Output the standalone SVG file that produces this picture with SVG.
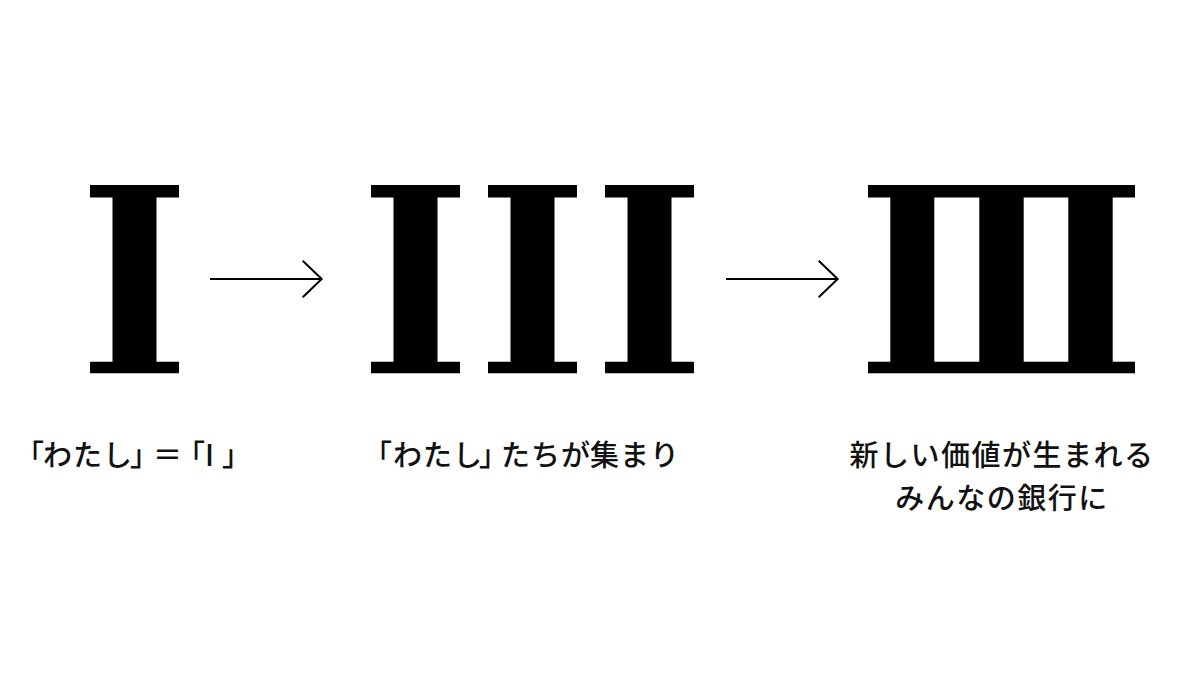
<svg xmlns="http://www.w3.org/2000/svg" width="1200" height="675" viewBox="0 0 1200 675">
  <style>
    .glyph { fill: #000; }
    .conn { stroke: #000; stroke-width: 2; fill: none; }
    .label { font-family: "Noto Sans CJK JP", "Noto Sans", sans-serif; font-size: 29px; font-weight: 500; fill: #111; }
    .mid { text-anchor: middle; letter-spacing: 1.5px; }
  </style>
  <defs>
    <path id="roman1" d="M0,0 H89 V12.5 H66.5 V176.7 H89 V188.3 H0 V176.7 H22.5 V12.5 H0 Z"/>
    <marker id="open" markerUnits="userSpaceOnUse" markerWidth="24" markerHeight="40" refX="20" refY="19" orient="auto" viewBox="0 0 24 40">
      <path d="M1,0.7 L20,19 L1,37.3" fill="none" stroke="#000" stroke-width="2"/>
    </marker>
  </defs>
  <rect width="1200" height="675" fill="#fff"/>

  <g id="node-one">
    <use href="#roman1" class="glyph" x="90" y="185"/>
    <text class="label" x="15 43 73 103 130 153 176 205 222" y="466">「わたし」＝「I」</text>
  </g>

  <g id="node-three">
    <use href="#roman1" class="glyph" x="371" y="185"/>
    <use href="#roman1" class="glyph" x="488" y="185"/>
    <use href="#roman1" class="glyph" x="605" y="185"/>
    <text class="label" x="363 393 423 453 479 501 531 561 590 620 650" y="466">「わたし」たちが集まり</text>
  </g>

  <g id="node-merged">
    <g class="glyph">
      <rect x="868" y="185" width="267" height="12.5"/>
      <rect x="868" y="361.7" width="267" height="11.6"/>
      <rect x="890.3" y="197" width="44" height="165"/>
      <rect x="979.3" y="197" width="44.4" height="165"/>
      <rect x="1068.3" y="197" width="44.4" height="165"/>
    </g>
    <text class="label mid" x="1002" y="466">新しい価値が生まれる</text>
    <text class="label mid" x="1002" y="509">みんなの銀行に</text>
  </g>

  <g id="connectors">
    <line class="conn" x1="210" y1="279" x2="321.7" y2="279" marker-end="url(#open)"/>
    <line class="conn" x1="726" y1="279" x2="837.7" y2="279" marker-end="url(#open)"/>
  </g>
</svg>
